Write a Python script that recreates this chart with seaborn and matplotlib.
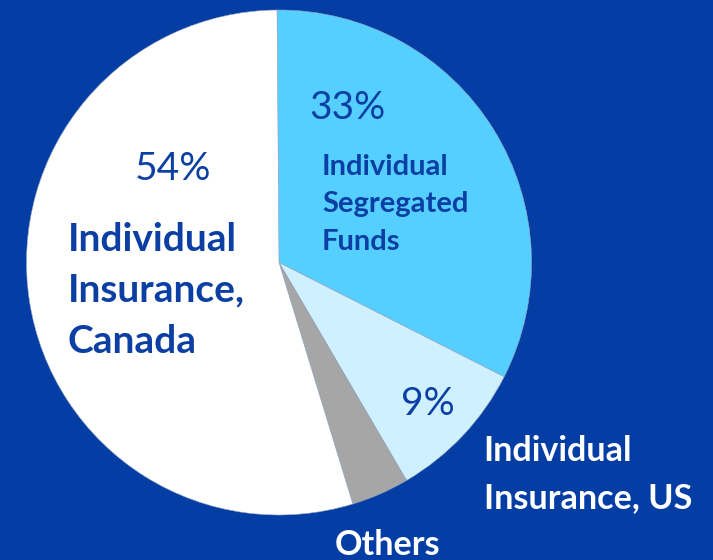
import matplotlib
matplotlib.use("Agg")
import matplotlib.pyplot as plt
import seaborn as sns

# Slice data (clockwise from 12 o'clock)
segments = ["Individual Segregated Funds", "Individual Insurance, US", "Others", "Individual Insurance, Canada"]
shares = [32.6, 9.1, 3.7, 54.6]
pct_labels = ["33%", "9%", "", "54%"]
colors = ["#55CFFF", "#CFF1FF", "#A6A6A6", "#FFFFFF"]

sns.set_style("white")
plt.rcParams["font.family"] = ["Lato", "DejaVu Sans"]

bg = "#043EA5"
txt = "#0B3FA3"

fig = plt.figure(figsize=(7.13, 5.6), dpi=100, facecolor=bg)
ax = fig.add_axes([26.5 / 713, 45 / 560, 505 / 713, 505 / 560])
ax.set_facecolor(bg)

wedges, _ = ax.pie(shares, colors=colors, startangle=90.45, counterclock=False,
                   radius=1, wedgeprops=dict(linewidth=0.4, edgecolor="#9AA8C0"))
ax.set_xlim(-1, 1)
ax.set_ylim(-1, 1)
ax.axis("off")

# percentage labels
ax.text(0.27, 0.61, pct_labels[0], color=txt, fontsize=28, ha="center", va="center")
ax.text(-0.42, 0.37, pct_labels[3], color=txt, fontsize=28, ha="center", va="center")
ax.text(0.59, -0.56, pct_labels[1], color=txt, fontsize=28, ha="center", va="center")

# category labels
ax.text(0.17, 0.23, "Individual\nSegregated\nFunds", color=txt, fontsize=21,
        fontweight="bold", ha="left", va="center", linespacing=1.53)
ax.text(-0.836, -0.11, "Individual\nInsurance,\nCanada", color=txt, fontsize=28,
        fontweight="bold", ha="left", va="center", linespacing=1.56)
ax.text(0.81, -0.84, "Individual\nInsurance, US", color="white", fontsize=24.6,
        fontweight="bold", ha="left", va="center", linespacing=1.57, clip_on=False)
ax.text(0.43, -1.12, segments[2], color="white", fontsize=24.6,
        fontweight="bold", ha="center", va="center", clip_on=False)

fig.savefig("out.png", dpi=100, facecolor=bg)
